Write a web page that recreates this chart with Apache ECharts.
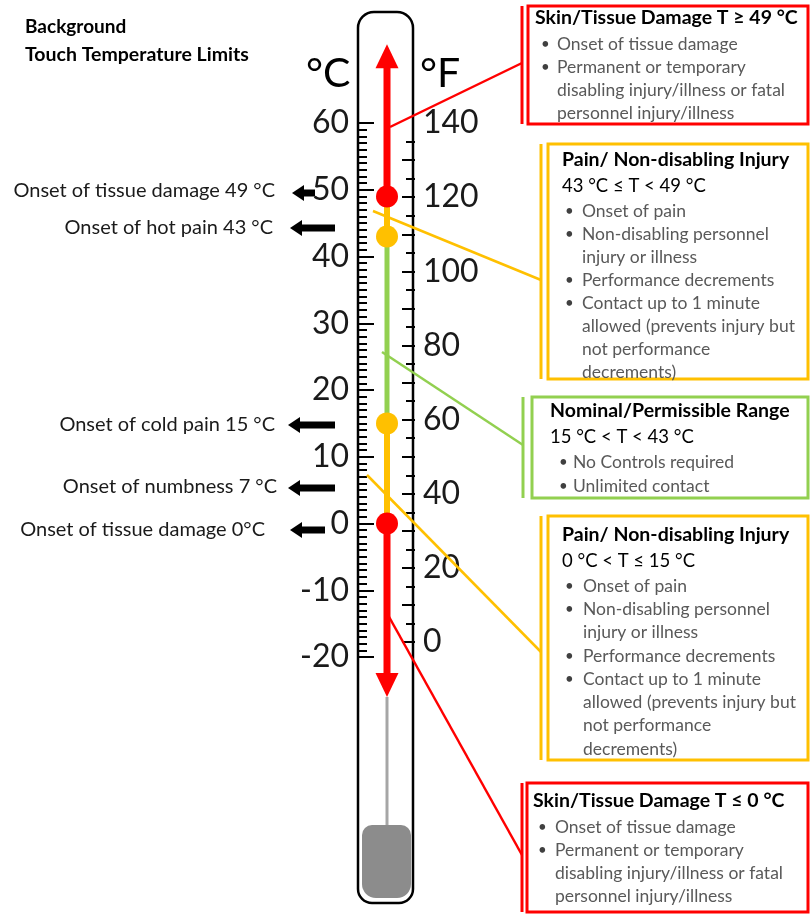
<!DOCTYPE html>
<html>
<head>
<meta charset="utf-8">
<script src="https://cdn.jsdelivr.net/npm/echarts@6/dist/echarts.min.js"></script>
<style>
  html, body { margin: 0; padding: 0; background: #fff; }
  #chart { width: 811px; height: 914px; }
</style>
</head>
<body>
<div id="chart"></div>
<script>
  /******************/
  //region    //data

  // threshold temperatures (°C) marked by dots on the thermometer
  var thresholds = [49, 43, 15, 0];
  var thresholdColors = ['#ff0000', '#ffc000', '#ffc000', '#ff0000'];
  // coloured column, top to bottom: red / yellow / green / yellow / red
  var bandColors = ['#ff0000', '#ffc000', '#92d050', '#ffc000', '#ff0000'];
  var bandWidths = [7, 6, 5, 6, 7];
  var arrowTop = 70, arrowBottom = -24.2;

  var cTicks = [-20, -10, 0, 10, 20, 30, 40, 50, 60];
  var fLabels = [0, 20, 40, 60, 80, 100, 120, 140];

  var onsetTexts = [
    'Onset of tissue damage 49 °C',
    'Onset of hot pain 43 °C',
    'Onset of cold pain 15 °C',
    'Onset of numbness 7 °C',
    'Onset of tissue damage 0°C'
  ];

  var hotDamageTitle = 'Skin/Tissue Damage T ≥ 49 °C';
  var damageBullets = [
    ['Onset of tissue damage'],
    ['Permanent or temporary', 'disabling injury/illness or fatal', 'personnel injury/illness']
  ];
  var painTitle = 'Pain/ Non-disabling Injury';
  var hotPainRange = '43 °C ≤ T < 49 °C';
  var painBullets = [
    ['Onset of pain'],
    ['Non-disabling personnel', 'injury or illness'],
    ['Performance decrements'],
    ['Contact up to 1 minute', 'allowed (prevents injury but', 'not performance', 'decrements)']
  ];
  var nominalTitle = 'Nominal/Permissible Range';
  var nominalRange = '15 °C < T < 43 °C';
  var nominalBullets = [['No Controls required'], ['Unlimited contact']];
  var coldPainRange = '0 °C < T ≤ 15 °C';
  var coldDamageTitle = 'Skin/Tissue Damage T ≤ 0 °C';

  //endregion

  /******************/
  //region    //layout

  var FONT = 'Lato, "Noto Sans", sans-serif';
  var pxPerC = 6.675, y60 = 123;
  var cMin = -30, cMax = 75;
  var gridTop = y60 - (cMax - 60) * pxPerC;
  var gridBottom = 914 - (y60 + (60 - cMin) * pxPerC);
  var toF = function (c) { return c * 9 / 5 + 32; };

  var minorC = [];
  for (var i = -20; i <= 60; i++) if (i % 10) minorC.push(i);
  var majorF = [], minorF = [];
  for (var f = 0; f <= 135; f += 5) (f % 10 ? minorF : majorF).push(f);

  var boxes = [
    {color: '#ff0000', bx: 522, x: 528, y: 6, h: 118, ty: 18, tx: 535, bulx: 541, txx: 557, step: 23,
      title: hotDamageTitle, range: null, bullets: damageBullets},
    {color: '#ffc000', bx: 541, x: 548, y: 144, h: 235, ty: 160, tx: 562, bulx: 565, txx: 582, step: 23,
      title: painTitle, range: hotPainRange, bullets: painBullets},
    {color: '#92d050', bx: 523, x: 532, y: 397, h: 101, ty: 411, tx: 550, bulx: 559, txx: 573, step: 24,
      title: nominalTitle, range: nominalRange, bullets: nominalBullets},
    {color: '#ffc000', bx: 541, x: 548, y: 516, h: 244, ty: 535, tx: 562, bulx: 565, txx: 583, step: 23.3,
      title: painTitle, range: coldPainRange, bullets: painBullets},
    {color: '#ff0000', bx: 522, x: 527, y: 783, h: 129, ty: 801, tx: 533, bulx: 538, txx: 555, step: 23,
      title: coldDamageTitle, range: null, bullets: damageBullets}
  ];
  var connectors = [
    {color: '#ff0000', p: [[390, 127], [522, 63]]},
    {color: '#ffc000', p: [[373, 211], [541, 280]]},
    {color: '#92d050', p: [[382, 352], [523, 445]]},
    {color: '#ffc000', p: [[367, 475], [541, 652]]},
    {color: '#ff0000', p: [[388, 615], [522, 855]]}
  ];
  var onsetLayout = [
    {right: 275, y: 191, ax0: 292, ax1: 315, ay: 193},
    {right: 273, y: 228, ax0: 290, ax1: 335, ay: 228},
    {right: 275, y: 425, ax0: 288, ax1: 335, ay: 425},
    {right: 277, y: 487, ax0: 288, ax1: 335, ay: 488},
    {right: 265, y: 530, ax0: 290, ax1: 325, ay: 530}
  ];

  //endregion

  /******************/
  //region    //function

  function text(str, x, y, opt) {
    opt = opt || {};
    return {
      type: 'text', z: 20,
      style: {
        text: str, x: x, y: y,
        font: (opt.weight || 'normal') + ' ' + (opt.size || 16) + 'px ' + FONT,
        fill: opt.color || '#000',
        textAlign: opt.align || 'left', align: opt.align || 'left',
        textVerticalAlign: 'middle', verticalAlign: 'middle'
      }
    };
  }

  function leftArrow(x0, x1, y) {
    return {
      type: 'polygon', z: 20,
      shape: {points: [[x0, y], [x0 + 12, y - 8], [x0 + 12, y - 3.5], [x1, y - 3.5], [x1, y + 3.5], [x0 + 12, y + 3.5], [x0 + 12, y + 8]]},
      style: {fill: '#000'}
    };
  }

  function buildGraphic() {
    var g = [];
    // header
    g.push(text('Background', 25, 27, {weight: 'bold', size: 19}));
    g.push(text('Touch Temperature Limits', 25, 55, {weight: 'bold', size: 19.5}));
    g.push(text('°C', 306, 74, {size: 41}));
    g.push(text('°F', 420, 74, {size: 41}));

    // thermometer body
    g.push({type: 'rect', z: 1, shape: {x: 358, y: 12, width: 55, height: 891, r: [16, 16, 14, 14]},
      style: {fill: 'none', stroke: '#000', lineWidth: 2.5}});
    g.push({type: 'line', z: 1, shape: {x1: 387, y1: 697, x2: 387, y2: 826},
      style: {stroke: '#a6a6a6', lineWidth: 3}});
    g.push({type: 'rect', z: 1, shape: {x: 362, y: 825, width: 49, height: 73, r: [10, 10, 14, 14]},
      style: {fill: '#8c8c8c'}});

    // left annotations
    onsetTexts.forEach(function (t, k) {
      var L = onsetLayout[k];
      g.push(text(t, L.right, L.y, {align: 'right', size: 20, color: '#1a1a1a'}));
      g.push(leftArrow(L.ax0, L.ax1, L.ay));
    });

    // connectors
    connectors.forEach(function (c) {
      g.push({type: 'line', z: 15, shape: {x1: c.p[0][0], y1: c.p[0][1], x2: c.p[1][0], y2: c.p[1][1]},
        style: {stroke: c.color, lineWidth: 2.5}});
    });

    // boxes
    boxes.forEach(function (b) {
      g.push({type: 'line', z: 15, shape: {x1: b.bx, y1: b.y, x2: b.bx, y2: b.y + b.h},
        style: {stroke: b.color, lineWidth: 3}});
      g.push({type: 'rect', z: 15, shape: {x: b.x, y: b.y, width: 808 - b.x, height: b.h},
        style: {fill: '#fff', stroke: b.color, lineWidth: 3}});
      g.push(text(b.title, b.tx, b.ty, {weight: 'bold', size: 19.5}));
      var y = b.ty + 26.5;
      if (b.range) {
        g.push(text(b.range, b.tx, y, {size: 18.5}));
        y += 24.5;
      }
      b.bullets.forEach(function (lines) {
        lines.forEach(function (ln, j) {
          if (j === 0) g.push(text('•', b.bulx, y, {size: 15, color: '#404040'}));
          g.push(text(ln, b.txx, y, {size: 17.5, color: '#595959'}));
          y += b.step;
        });
      });
    });
    return g;
  }

  function buildSeries() {
    var bounds = [arrowTop - 1.5].concat(thresholds, [arrowBottom + 1.5]);
    var s = [];
    bandColors.forEach(function (c, k) {
      s.push({
        type: 'line', clip: false, symbol: 'none', z: 3, silent: true,
        data: [[0.5, bounds[k]], [0.5, bounds[k + 1]]],
        lineStyle: {color: c, width: bandWidths[k]}
      });
    });
    s.push({
      type: 'scatter', clip: false, symbol: 'triangle', symbolSize: [23, 24], z: 4,
      itemStyle: {color: '#ff0000', opacity: 1},
      data: [{value: [0.5, arrowTop], symbolRotate: 0}, {value: [0.5, arrowBottom], symbolRotate: 180}]
    });
    s.push({
      type: 'scatter', clip: false, symbolSize: 22, z: 5,
      itemStyle: {opacity: 1},
      data: thresholds.map(function (t, k) {
        return {value: [0.5, t], itemStyle: {color: thresholdColors[k], opacity: 1}};
      })
    });
    return s;
  }

  function yAxis(pos, min, max, ticks, len, labels) {
    return {
      type: 'value', position: pos, min: min, max: max,
      splitLine: {show: false}, axisLine: {show: false},
      axisTick: {show: true, inside: true, length: len, customValues: ticks,
        lineStyle: {color: '#000', width: 2}},
      axisLabel: labels ? {show: true, customValues: labels, fontSize: 32, color: '#1a1a1a',
        fontFamily: FONT, margin: pos === 'left' ? 10 : 8} : {show: false}
    };
  }

  var chart = echarts.init(document.getElementById('chart'));
  chart.setOption({
    animation: false,
    backgroundColor: '#fff',
    grid: {left: 359, width: 56, top: gridTop, bottom: gridBottom},
    xAxis: {type: 'value', min: 0, max: 1, show: false},
    yAxis: [
      yAxis('left', cMin, cMax, cTicks, 15, cTicks),
      yAxis('left', cMin, cMax, minorC, 8, null),
      yAxis('right', toF(cMin), toF(cMax), majorF, 13, fLabels),
      yAxis('right', toF(cMin), toF(cMax), minorF, 9, null)
    ],
    series: buildSeries(),
    graphic: buildGraphic()
  });

  //endregion
</script>
</body>
</html>
